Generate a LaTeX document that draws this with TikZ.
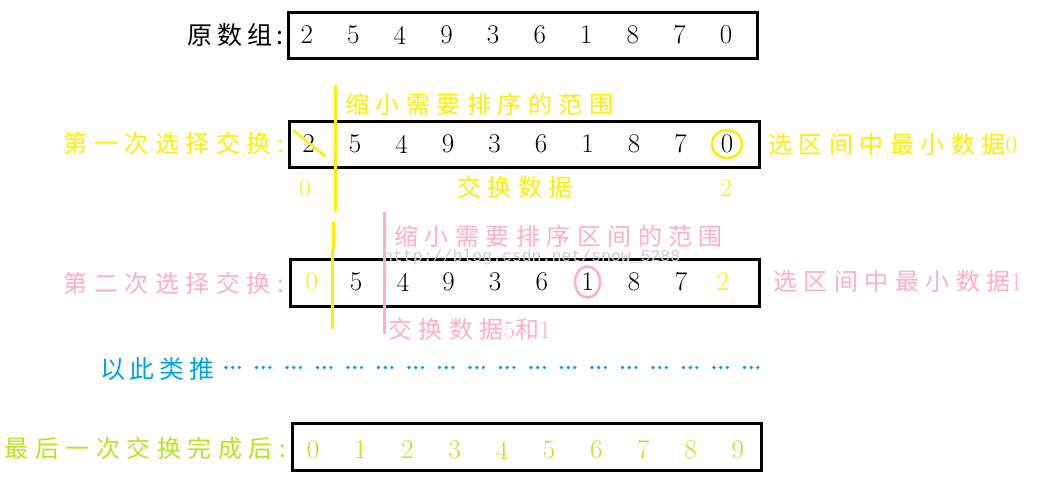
\documentclass[tikz,border=0pt]{standalone}
\usepackage{fontspec}
\usetikzlibrary{shapes.geometric}
\newfontfamily\cjkf[LetterSpace=27]{Noto Sans CJK SC}
\newfontfamily\cjkg[LetterSpace=19]{Noto Sans CJK SC}
\newfontfamily\wmfont{Liberation Mono}
\definecolor{pyellow}{HTML}{FFEE00}
\definecolor{ppink}{HTML}{FFAEC9}
\definecolor{plime}{HTML}{B5E61D}
\definecolor{pblue}{HTML}{00A2E8}
\newcommand\numA{\rmfamily\fontsize{27}{27}\selectfont}
\newcommand\numB{\rmfamily\fontsize{25}{25}\selectfont}
\begin{document}
\begin{tikzpicture}[x=1pt,y=-1pt,
  arr/.style={draw=black,line width=3pt,inner sep=0pt,anchor=north west},
  dig/.style={inner sep=0pt,font=\numA},
  dign/.style={inner sep=0pt,font=\numB},
  lab/.style={inner sep=0pt,font=\cjkf\fontsize{24}{24}\selectfont},
  labg/.style={inner sep=0pt,font=\cjkg\fontsize{25}{25}\selectfont},
  hl/.style={line width=3pt},
  ring/.style={line width=2.5pt}]
\useasboundingbox (0,0) rectangle (1041,494);

% row 1
\node[arr,minimum width=469pt,minimum height=46pt] (box1) at (287,11) {};
\foreach \v [count=\i from 0] in {2,5,4,9,3,6,1,8,7,0}
  \node[dig] (a\i) at (306.7+46.6*\i,35) {\v};
\node[labg,anchor=east] (t1) at (284,35) {原数组:};

% row 2
\node[arr,minimum width=470pt,minimum height=46pt] (box2) at (288,120) {};
\foreach \v [count=\i from 0] in {2,5,4,9,3,6,1,8,7,0}
  \node[dig] (b\i) at (308.5+46.5*\i,144) {\v};
\draw[pyellow,ring] (293,130) -- (325,156);
\draw[pyellow,ring] (b9) ellipse [x radius=15pt, y radius=14pt];
\draw[pyellow,hl] (335.5,85) -- (335.5,211);
\node[lab,anchor=west,text=pyellow] (t2) at (345,104) {缩小需要排序的范围};
\node[lab,anchor=east,text=pyellow] (t3) at (284,143) {第一次选择交换:};
\node[lab,anchor=west,text=pyellow] (t4) at (768,144) {选区间中最小数据{\numB 0}};
\node[dign,text=pyellow] (t5) at (305,188) {0};
\node[lab,anchor=west,text=pyellow] (t6) at (457,187) {交换数据};
\node[dign,text=pyellow] (t7) at (726,188) {2};

% row 3
\node[arr,minimum width=469pt,minimum height=47pt] (box3) at (289,258) {};
\foreach \v/\xx/\cc [count=\i from 0] in {0/311.7/pyellow,5/356/black,4/403/black,9/448.5/black,3/495/black,6/541.7/black,1/587.5/black,8/634/black,7/681/black,2/722.7/pyellow}
  \node[dig,text=\cc] (c\i) at (\xx,282) {\v};
\draw[ppink,ring] (c6) ellipse [x radius=12.5pt, y radius=15.5pt];
\draw[pyellow,hl] (333.5,222) -- (333.5,250);
\draw[pyellow,hl] (332,249) -- (332,329);
\draw[ppink,hl] (384,212) -- (384,334);
\node[anchor=west,inner sep=0pt,text=black!20,font=\wmfont\fontsize{16.5}{16.5}\selectfont] (wm) at (383,257) {http://blog.csdn.net/snow\_5288};
\node[lab,anchor=west,text=ppink] (u1) at (394,236) {缩小需要排序区间的范围};
\node[lab,anchor=east,text=ppink] (u2) at (284,283) {第二次选择交换:};
\node[lab,anchor=west,text=ppink] (u3) at (773,281) {选区间中最小数据{\numB 1}};
\node[lab,anchor=west,text=ppink] (u4) at (388,329) {交换数据{\numB 5}和{\numB 1}};

% row 4
\node[labg,anchor=west,text=pblue] (v1) at (100,369) {以此类推};
\coordinate (dotstart) at (226,367.5);
\coordinate (dotend) at (762,367.5);
\draw[pblue,line width=3.6pt,line cap=round,dash pattern=on 0pt off 6.7pt on 0pt off 6.7pt on 0pt off 17.1pt] (dotstart) -- (dotend);

% row 5
\node[arr,minimum width=469pt,minimum height=47pt] (box5) at (291,422) {};
\foreach \v in {0,...,9}
  \node[dig,text=plime] (e\v) at (313+47.2*\v,450) {\v};
\node[lab,anchor=east,text=plime] (w1) at (286,448) {最后一次交换完成后:};
\end{tikzpicture}
\end{document}
